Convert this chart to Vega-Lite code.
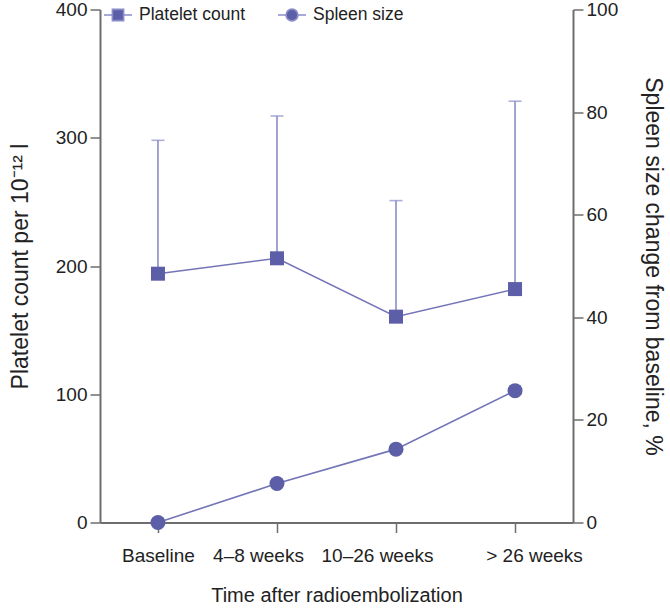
{
  "$schema": "https://vega.github.io/schema/vega-lite/v6.json",
  "width": 473,
  "height": 513,
  "autosize": {"type": "none"},
  "padding": {"left": 100, "top": 9.5, "right": 97, "bottom": 87.5},
  "background": "white",
  "config": {
    "view": {"stroke": null},
    "font": "Liberation Sans",
    "axis": {
      "grid": false,
      "domainColor": "#6e6e6e",
      "domainWidth": 2,
      "tickColor": "#6e6e6e",
      "tickWidth": 1.5,
      "tickSize": 10,
      "labelFont": "Liberation Sans",
      "labelFontSize": 19,
      "labelColor": "#222222",
      "titleFont": "Liberation Sans",
      "titleFontSize": 23,
      "titleFontWeight": "normal",
      "titleColor": "#222222"
    },
    "legend": {
      "labelFont": "Liberation Sans",
      "labelFontSize": 17.5,
      "labelColor": "#222222",
      "orient": "none",
      "padding": 0,
      "symbolSize": 784,
      "symbolStrokeColor": "#8a8cc8",
      "symbolStrokeWidth": 1.6,
      "symbolFillColor": "#5c5ea8",
      "symbolOpacity": 1,
      "labelOffset": 6
    }
  },
  "data": {
    "values": [
      {"time": "Baseline", "series": "Platelet count", "value": 194, "upper": 298},
      {"time": "4–8 weeks", "series": "Platelet count", "value": 206, "upper": 317},
      {"time": "10–26 weeks", "series": "Platelet count", "value": 160.5, "upper": 251},
      {"time": "> 26 weeks", "series": "Platelet count", "value": 182, "upper": 328.5},
      {"time": "Baseline", "series": "Spleen size", "value": 0},
      {"time": "4–8 weeks", "series": "Spleen size", "value": 7.6},
      {"time": "10–26 weeks", "series": "Spleen size", "value": 14.3},
      {"time": "> 26 weeks", "series": "Spleen size", "value": 25.7}
    ]
  },
  "encoding": {
    "x": {
      "field": "time",
      "type": "ordinal",
      "sort": ["Baseline", "4–8 weeks", "10–26 weeks", "> 26 weeks"],
      "scale": {"type": "point", "padding": 0.487},
      "axis": {
        "title": "Time after radioembolization",
        "titleFontSize": 20,
        "labelAngle": 0,
        "tickSize": 10,
        "labelPadding": 14,
        "titlePadding": 20,
        "labelOffset": {
          "condition": [
            {"test": "datum.value === 'Baseline'", "value": 0},
            {"test": "datum.value === '> 26 weeks'", "value": 19}
          ],
          "value": -19
        }
      }
    }
  },
  "layer": [
    {
      "transform": [{"filter": "datum.series === 'Platelet count'"}],
      "layer": [
        {
          "mark": {"type": "rule", "color": "#8a8cc8", "strokeWidth": 1.6},
          "encoding": {
            "y": {
              "field": "value",
              "type": "quantitative",
              "scale": {"domain": [0, 400], "nice": false},
              "axis": {
                "orient": "left",
                "values": [0, 100, 200, 300, 400],
                "title": "Platelet count per 10⁻¹² l",
                "labelPadding": 3,
                "titlePadding": 23
              }
            },
            "y2": {"field": "upper"}
          }
        },
        {
          "mark": {"type": "tick", "orient": "horizontal", "size": 13, "thickness": 1.6, "color": "#8a8cc8"},
          "encoding": {"y": {"field": "upper", "type": "quantitative"}}
        },
        {
          "mark": {"type": "line", "color": "#7375b8", "strokeWidth": 1.6},
          "encoding": {"y": {"field": "value", "type": "quantitative"}}
        },
        {
          "mark": {"type": "point", "filled": true, "opacity": 1, "shape": "square", "size": 196},
          "encoding": {
            "y": {"field": "value", "type": "quantitative"},
            "color": {
              "field": "series",
              "type": "nominal",
              "scale": {"range": ["#5c5ea8"]},
              "legend": {
                "title": null,
                "legendX": 3,
                "legendY": -9.5,
                "symbolType": "M-1,0H-0.4M0.4,0H1M-0.4,-0.4H0.4V0.4H-0.4Z"
              }
            }
          }
        }
      ]
    },
    {
      "transform": [{"filter": "datum.series === 'Spleen size'"}],
      "layer": [
        {
          "mark": {"type": "line", "color": "#7375b8", "strokeWidth": 1.6},
          "encoding": {
            "y": {
              "field": "value",
              "type": "quantitative",
              "scale": {"domain": [0, 100], "nice": false},
              "axis": {
                "orient": "right",
                "values": [0, 20, 40, 60, 80, 100],
                "title": "Spleen size change from baseline, %",
                "labelPadding": 3,
                "titlePadding": 23
              }
            }
          }
        },
        {
          "mark": {"type": "point", "filled": true, "opacity": 1, "shape": "circle", "size": 225},
          "encoding": {
            "y": {"field": "value", "type": "quantitative"},
            "color": {
              "field": "series",
              "type": "nominal",
              "scale": {"range": ["#5c5ea8"]},
              "legend": {
                "title": null,
                "legendX": 177,
                "legendY": -9.5,
                "symbolType": "M-1,0H-0.42M0.42,0H1M-0.42,0A0.42,0.42,0,1,1,0.42,0A0.42,0.42,0,1,1,-0.42,0Z"
              }
            }
          }
        }
      ]
    }
  ],
  "resolve": {
    "scale": {"y": "independent", "color": "independent"},
    "legend": {"color": "independent"}
  }
}
